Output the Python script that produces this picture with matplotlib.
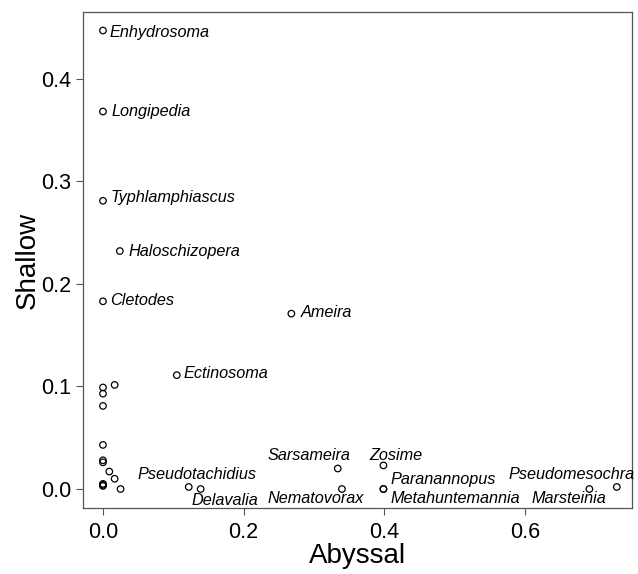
import numpy as np
import matplotlib.pyplot as plt

plt.rcParams['font.family'] = ['Liberation Sans', 'DejaVu Sans']

# points (Abyssal, Shallow); empty name = unlabelled
names = ['Enhydrosoma', 'Longipedia', 'Typhlamphiascus', 'Haloschizopera',
         'Cletodes', 'Ameira', 'Ectinosoma', 'Pseudotachidius', 'Delavalia',
         'Sarsameira', 'Nematovorax', 'Zosime', 'Paranannopus',
         'Metahuntemannia', 'Pseudomesochra', 'Marsteinia']
abyssal = [0.0, 0.0, 0.0, 0.024, 0.0, 0.268, 0.105, 0.122, 0.139,
           0.334, 0.340, 0.399, 0.399, 0.399, 0.731, 0.692]
shallow = [0.447, 0.368, 0.281, 0.232, 0.183, 0.171, 0.111, 0.002, 0.0,
           0.020, 0.0, 0.023, 0.0, 0.0, 0.002, 0.0]

other_x = [0.0, 0.0, 0.0, 0.0166, 0.0, 0.0, 0.0, 0.009, 0.0166,
           0.0, 0.0, 0.0, 0.025]
other_y = [0.099, 0.093, 0.081, 0.1015, 0.043, 0.028, 0.026, 0.017, 0.010,
           0.005, 0.004, 0.003, 0.0]

# label offsets in pixels (left edge of text, vertical centre)
offsets = {
    'Enhydrosoma': (7, -2), 'Longipedia': (9, 0), 'Typhlamphiascus': (8, 3),
    'Haloschizopera': (9, 0), 'Cletodes': (7, 1), 'Ameira': (9, 1),
    'Ectinosoma': (7, 2), 'Pseudotachidius': (-51, 12), 'Delavalia': (-9, -11),
    'Sarsameira': (-70, 13), 'Nematovorax': (-74, -9), 'Zosime': (-14, 10),
    'Paranannopus': (7, 10), 'Metahuntemannia': (7, -9),
    'Pseudomesochra': (-108, 12), 'Marsteinia': (-58, -9),
}

fig = plt.figure(figsize=(6.38, 5.74), dpi=100)
ax = fig.add_axes([0.130, 0.115, 0.861, 0.864])

ax.scatter(abyssal + other_x, shallow + other_y, s=22, facecolors='none',
           edgecolors='k', linewidths=0.9)

for n, x, y in zip(names, abyssal, shallow):
    dx, dy = offsets[n]
    ax.annotate(n, (x, y), xytext=(dx, dy), textcoords='offset pixels',
                ha='left', va='center', fontsize=11.7, style='italic')

ax.set_xlim(-0.0285, 0.753)
ax.set_ylim(-0.0185, 0.465)
ax.set_xticks([0.0, 0.2, 0.4, 0.6])
ax.set_yticks([0.0, 0.1, 0.2, 0.3, 0.4])
ax.tick_params(labelsize=15.5, length=5, width=0.8, color='#555555')
ax.tick_params(axis='x', pad=5)
for s in ax.spines.values():
    s.set_color('#555555')
    s.set_linewidth(0.9)

ax.set_xlabel('Abyssal', fontsize=20, labelpad=0)
ax.set_ylabel('Shallow', fontsize=20, labelpad=0)

fig.savefig('out.png', dpi=100)
